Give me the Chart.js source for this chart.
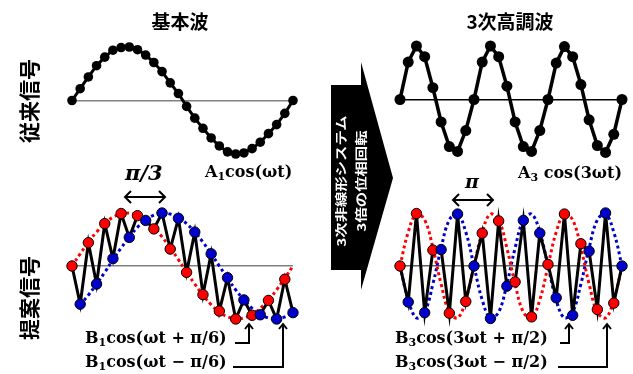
<!DOCTYPE html>
<html>
<head>
<meta charset="utf-8">
<script src="https://cdn.jsdelivr.net/npm/chart.js@4"></script>
<style>
body { margin: 0; background: #fff; }
#wrap { position: relative; width: 633px; height: 374px; overflow: hidden; font-family: "Noto Sans CJK JP"; }
canvas { position: absolute; }
svg { position: absolute; left: 0; top: 0; }
.t { position: absolute; white-space: nowrap; font-weight: bold; line-height: 1; color: #000; }
.title { font-size: 19px; transform: translate(-50%, -50%); }
.side { font-size: 21px; transform: translate(-50%, -50%) rotate(-90deg); }
.math { font-family: "DejaVu Serif"; font-size: 16px; }
.math span { font-size: 11px; position: relative; top: 3px; }
.pi { font-family: "DejaVu Serif"; font-style: italic; font-size: 21px; }
.sys { font-size: 12px; color: #fff; text-align: center; line-height: 20px;
       transform: translate(-50%, -50%) rotate(-90deg) scale(1.28, 1); }
</style>
</head>
<body>
<div id="wrap">
  <canvas id="fundChart" width="245" height="131" style="left:60px;top:35px"></canvas>
  <canvas id="harmChart" width="246" height="131" style="left:388px;top:34px"></canvas>
  <canvas id="propFundChart" width="245" height="130" style="left:60px;top:201px"></canvas>
  <canvas id="propHarmChart" width="246" height="130" style="left:388px;top:201px"></canvas>

  <svg width="633" height="374">
    <polygon points="331,85 361,85 361,62 393,178 361,290 361,270 331,270" fill="#000"/>
    <g stroke="#000" stroke-width="2" fill="none">
      <line x1="125" y1="197" x2="165" y2="197"/>
      <polyline points="131,191 125,197 131,203"/>
      <polyline points="159,191 165,197 159,203"/>
      <line x1="453" y1="200" x2="493" y2="200"/>
      <polyline points="459,194 453,200 459,206"/>
      <polyline points="487,194 493,200 487,206"/>
      <polyline points="235,343 249,343 249,324"/>
      <polyline points="245,329 249,324 253,329"/>
      <polyline points="233,367 283,367 283,324"/>
      <polyline points="279,329 283,324 287,329"/>
      <polyline points="560,343 569,343 569,324"/>
      <polyline points="565,329 569,324 573,329"/>
      <polyline points="558,367 607,367 607,324"/>
      <polyline points="603,329 607,324 611,329"/>
    </g>
  </svg>

  <div class="t title" style="left:180px;top:20px">基本波</div>
  <div class="t title" style="left:510px;top:20px">3次高調波</div>
  <div class="t side" style="left:28px;top:101px">従来信号</div>
  <div class="t side" style="left:28px;top:298px">提案信号</div>
  <div class="t sys" style="left:351px;top:181px">3次非線形システム<br>3倍の位相回転</div>

  <div class="t math" style="left:205px;top:164px">A<span>1</span>cos(ωt)</div>
  <div class="t math" style="left:518px;top:165px">A<span>3</span> cos(3ωt)</div>
  <div class="t pi" style="left:125px;top:162px">π/3</div>
  <div class="t pi" style="left:465px;top:172px;font-size:19px">π</div>
  <div class="t math" style="left:85px;top:330px">B<span>1</span>cos(ωt + π/6)</div>
  <div class="t math" style="left:85px;top:354px">B<span>1</span>cos(ωt − π/6)</div>
  <div class="t math" style="left:395px;top:330px">B<span>3</span>cos(3ωt + π/2)</div>
  <div class="t math" style="left:395px;top:354px">B<span>3</span>cos(3ωt − π/2)</div>
</div>

<script>
// sample index along one period of the fundamental
const samples = [0, 1, 2, 3, 4, 5, 6, 7, 8, 9, 10, 11, 12, 13, 14, 15, 16, 17, 18, 19, 20, 21, 22, 23, 24, 25, 26, 27];

// conventional signals (top)
const fundDots = [0, 0.22, 0.44, 0.65, 0.81, 0.94, 0.99, 1.0, 0.95, 0.85, 0.71, 0.54, 0.33, 0.13,
                  -0.11, -0.33, -0.52, -0.70, -0.85, -0.96, -1.0, -0.98, -0.90, -0.78, -0.62, -0.45, -0.24, 0];
const harmDots = [0, 0.70, 1.0, 0.80, 0.22, -0.42, -0.88, -0.97, -0.58, 0, 0.70, 1.0, 0.80, 0.25,
                  -0.42, -0.88, -0.97, -0.58, 0, 0.68, 0.99, 0.80, 0.28, -0.38, -0.86, -0.99, -0.65, 0];

// proposed signals (bottom): red samples on even index, blue on odd
const propFund = [0, -0.72, 0.44, -0.34, 0.80, 0.14, 0.99, 0.54, 0.95, 0.86, 0.70, 1.0, 0.32, 0.90,
                  -0.12, 0.64, -0.54, 0.23, -0.85, -0.22, -1.0, -0.64, -0.93, -0.92, -0.65, -1.0, -0.25, -0.88];
const fundLead = [0, 0.23, 0.45, 0.64, 0.80, 0.92, 0.98, 1.0, 0.96, 0.87, 0.73, 0.55, 0.34, 0.12,
                  -0.12, -0.34, -0.55, -0.73, -0.87, -0.96, -1.0, -0.98, -0.92, -0.80, -0.64, -0.45, -0.23, 0];
const fundLag = [null, -0.73, -0.55, -0.34, -0.12, 0.12, 0.34, 0.55, 0.73, 0.87, 0.96, 1.0, 0.98, 0.92,
                 0.80, 0.64, 0.45, 0.23, 0, -0.23, -0.45, -0.64, -0.80, -0.92, -0.98, -1.0, -0.96, -0.87];

const propHarm = [0, -0.68, 0.99, -0.88, 0.30, 0.31, -0.89, 0.98, -0.67, 0, 0.62, -0.99, 0.85, -0.38,
                  -0.30, 0.86, -0.96, 0.62, 0.03, -0.60, 0.98, -0.93, 0.42, 0.28, -0.82, 1.0, -0.70, 0];
const harmLead = [0, 0.64, 0.98, 0.87, 0.34, -0.34, -0.87, -0.98, -0.64, 0, 0.64, 0.98, 0.87, 0.34,
                  -0.34, -0.87, -0.98, -0.64, 0, 0.64, 0.98, 0.87, 0.34, -0.34, -0.87, -0.98, -0.64, 0];
const harmLag = [0, -0.64, -0.98, -0.87, -0.34, 0.34, 0.87, 0.98, 0.64, 0, -0.64, -0.98, -0.87, -0.34,
                 0.34, 0.87, 0.98, 0.64, 0, -0.64, -0.98, -0.87, -0.34, 0.34, 0.87, 0.98, 0.64, 0];

const RED = 'rgb(255,0,0)';
const BLUE = 'rgb(0,0,204)';

function panel(id, datasets, zeroColor) {
    return new Chart(document.getElementById(id), {
        type: 'line',
        data: { labels: samples, datasets: datasets },
        options: {
            responsive: false,
            animation: false,
            events: [],
            layout: { padding: 12 },
            plugins: { legend: { display: false }, tooltip: { enabled: false } },
            scales: {
                x: { display: false },
                y: {
                    min: -1, max: 1,
                    ticks: { display: false, stepSize: 1 },
                    border: { display: false },
                    grid: {
                        drawTicks: false,
                        lineWidth: 1.5,
                        color: c => (c.tick && c.tick.value === 0) ? zeroColor : 'rgba(0,0,0,0)'
                    },
                    afterFit: s => { s.width = 0; }
                }
            }
        }
    });
}

function dotLine(values, r, w) {
    return { data: values, borderColor: '#000', borderWidth: w, pointRadius: r,
             pointBackgroundColor: '#000', pointBorderWidth: 0, tension: 0, clip: false };
}

function zigzag(values) {
    return { data: values, borderColor: '#000', borderWidth: 3, pointRadius: 5.2,
             pointBackgroundColor: c => c.dataIndex % 2 ? BLUE : RED,
             pointBorderColor: '#000', pointBorderWidth: 1, tension: 0, clip: false };
}

function dotted(values, color) {
    return { data: values, borderColor: color, borderWidth: 3, borderDash: [3, 3],
             pointRadius: 0, tension: 0.4, clip: false };
}

panel('fundChart', [dotLine(fundDots, 4.8, 3)], '#808080');
panel('harmChart', [dotLine(harmDots, 5.5, 3.5)], '#000');
panel('propFundChart', [zigzag(propFund), dotted(fundLead, RED), dotted(fundLag, BLUE)], '#808080');
panel('propHarmChart', [zigzag(propHarm), dotted(harmLead, RED), dotted(harmLag, BLUE)], '#606060');
</script>
</body>
</html>
